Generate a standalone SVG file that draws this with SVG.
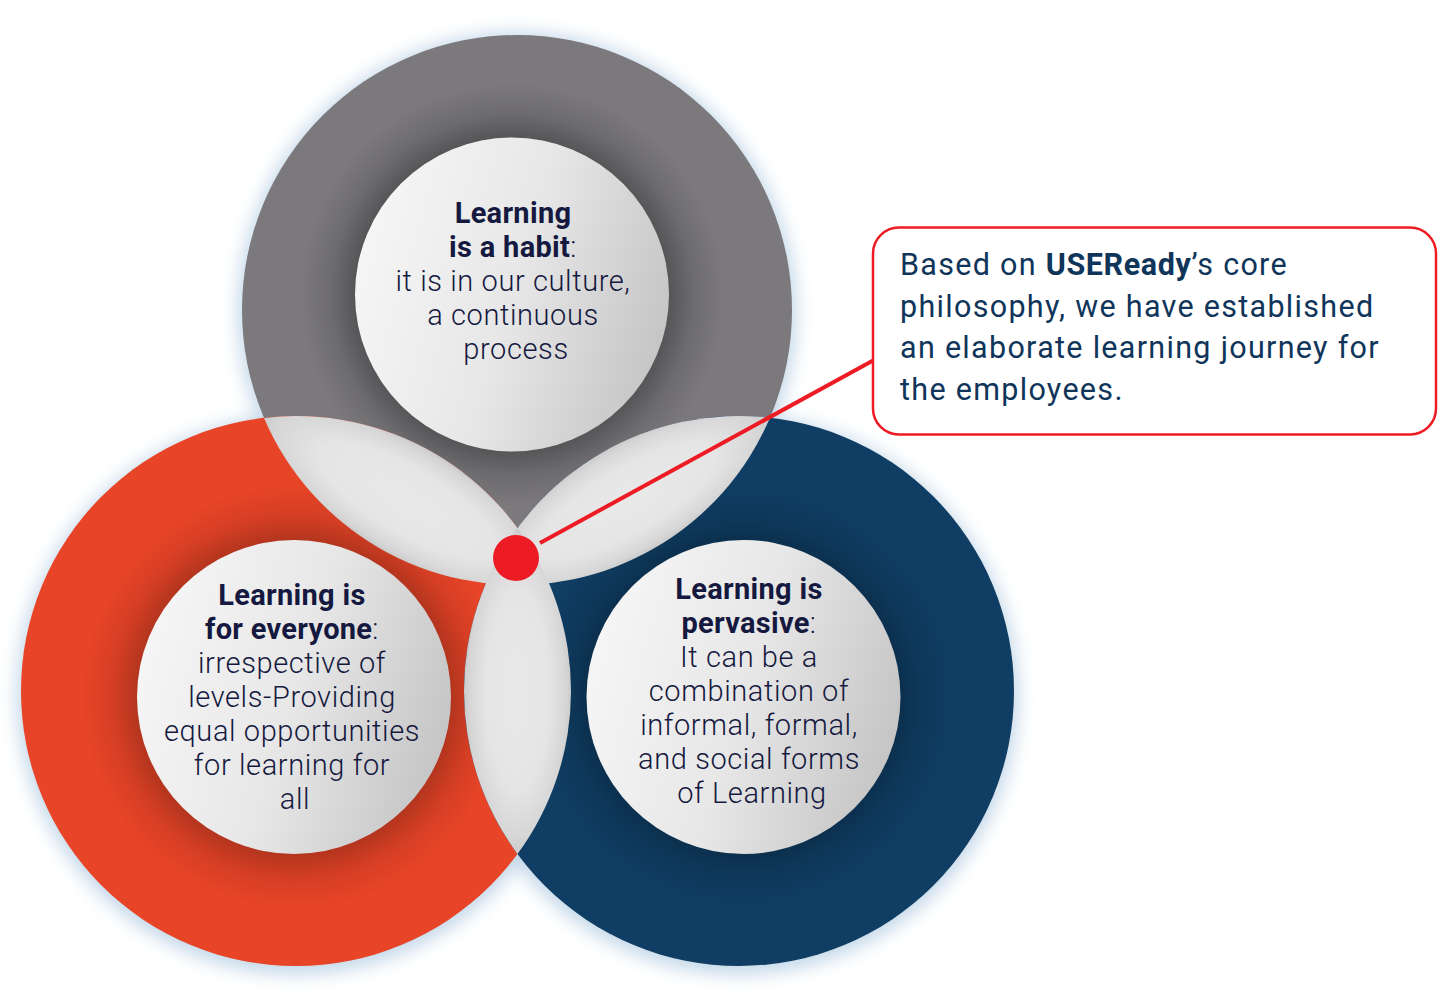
<svg xmlns="http://www.w3.org/2000/svg" width="1453" height="1007" viewBox="0 0 1453 1007">
<defs>
<style>
.t{font-family:Roboto,"Liberation Sans",sans-serif;font-size:29px;fill:#15193f;text-anchor:middle;font-weight:300;letter-spacing:0.6px}
.b{font-weight:700;letter-spacing:0.3px}
.c{font-family:Roboto,"Liberation Sans",sans-serif;font-size:30.5px;fill:#10355a;font-weight:400;letter-spacing:1.3px}
.cb{font-weight:700;letter-spacing:0.6px}
.lens{stroke:none}
</style>
<filter id="blur" x="-20%" y="-20%" width="140%" height="140%"><feGaussianBlur stdDeviation="9"/></filter>
<linearGradient id="ball" x1="0" y1="0.35" x2="1" y2="0.65">
<stop offset="0" stop-color="#f6f6f6"/>
<stop offset="0.5" stop-color="#e7e7e7"/>
<stop offset="1" stop-color="#c4c4c4"/>
</linearGradient>
<radialGradient id="shade" cx="0.5" cy="0.5" r="0.5">
<stop offset="0.74" stop-color="#000" stop-opacity="0.3"/>
<stop offset="0.86" stop-color="#000" stop-opacity="0.11"/>
<stop offset="1" stop-color="#000" stop-opacity="0"/>
</radialGradient>
<radialGradient id="lensGO" gradientUnits="userSpaceOnUse" cx="0" cy="0" r="1" gradientTransform="translate(406.5,500.5) rotate(30.1) scale(164.7,54.8)">
<stop offset="0" stop-color="#e9e9e9"/>
<stop offset="0.6" stop-color="#e5e5e5"/>
<stop offset="0.9" stop-color="#d6d6d6"/>
<stop offset="1" stop-color="#cbcbcb"/>
</radialGradient>
<radialGradient id="lensGN" gradientUnits="userSpaceOnUse" cx="0" cy="0" r="1" gradientTransform="translate(628,500.5) rotate(-30.2) scale(164.4,54.5)">
<stop offset="0" stop-color="#e9e9e9"/>
<stop offset="0.6" stop-color="#e5e5e5"/>
<stop offset="0.9" stop-color="#d6d6d6"/>
<stop offset="1" stop-color="#cbcbcb"/>
</radialGradient>
<radialGradient id="lensON" gradientUnits="userSpaceOnUse" cx="0" cy="0" r="1" gradientTransform="translate(517.5,691) rotate(90) scale(163,53.5)">
<stop offset="0" stop-color="#e9e9e9"/>
<stop offset="0.6" stop-color="#e5e5e5"/>
<stop offset="0.9" stop-color="#d6d6d6"/>
<stop offset="1" stop-color="#cbcbcb"/>
</radialGradient>
</defs>
<rect width="1453" height="1007" fill="#ffffff"/>

<g id="glow" filter="url(#blur)" fill="#c3d7e8">
<circle cx="517" cy="312" r="279"/>
<circle cx="296" cy="695" r="279"/>
<circle cx="739" cy="695" r="279"/>
</g>

<g id="rings">
<circle cx="517" cy="310" r="275" fill="#7b797c"/>
<circle cx="512" cy="294.5" r="212" fill="url(#shade)"/>
<circle cx="296" cy="691" r="275" fill="#e84427"/>
<circle cx="294" cy="697" r="212" fill="url(#shade)" opacity="0.75"/>
<circle cx="739" cy="691" r="275" fill="#0f3d63"/>
<circle cx="743.5" cy="697" r="212" fill="url(#shade)" opacity="0.7"/>
</g>

<g id="overlaps">
<path class="lens" fill="url(#lensGO)" d="M264,417.9 A275,275 0 0 1 549,583.1 A275,275 0 0 1 264,417.9 Z"/>
<path class="lens" fill="url(#lensGN)" d="M486,583.3 A275,275 0 0 1 770,417.7 A275,275 0 0 1 486,583.3 Z"/>
<path class="lens" fill="url(#lensON)" d="M517.5,528 A275,275 0 0 0 517.5,854 A275,275 0 0 0 517.5,528 Z"/>
</g>

<g id="node-habit">
<circle cx="512" cy="294.5" r="157" fill="url(#ball)"/>
<text class="t"><tspan class="b" x="513" y="223">Learning</tspan><tspan x="513" y="257"><tspan class="b">is a habit</tspan>:</tspan><tspan x="513" y="291">it is in our culture,</tspan><tspan x="513" y="325">a continuous</tspan><tspan x="516" y="359">process</tspan></text>
</g>

<g id="node-everyone">
<circle cx="294" cy="697" r="157" fill="url(#ball)"/>
<text class="t"><tspan class="b" x="292" y="605">Learning is</tspan><tspan x="292" y="639"><tspan class="b">for everyone</tspan>:</tspan><tspan x="292" y="673">irrespective of</tspan><tspan x="292" y="707">levels-Providing</tspan><tspan x="292" y="741">equal opportunities</tspan><tspan x="292" y="775">for learning for</tspan><tspan x="295" y="809">all</tspan></text>
</g>

<g id="node-pervasive">
<circle cx="743.5" cy="697" r="157" fill="url(#ball)"/>
<text class="t"><tspan class="b" x="749" y="599">Learning is</tspan><tspan x="749" y="633"><tspan class="b">pervasive</tspan>:</tspan><tspan x="749" y="667">It can be a</tspan><tspan x="749" y="701">combination of</tspan><tspan x="749" y="735">informal, formal,</tspan><tspan x="749" y="769">and social forms</tspan><tspan x="752" y="803">of Learning</tspan></text>
</g>

<g id="connectors">
<line x1="540" y1="543" x2="874" y2="360" stroke="#ed1c24" stroke-width="4"/>
</g>

<g id="center-dot">
<circle cx="516" cy="558" r="23" fill="#ed1c24"/>
</g>

<g id="callout">
<rect x="873" y="227.5" width="563" height="207" rx="26" fill="#ffffff" stroke="#ed1c24" stroke-width="2.5"/>
<text class="c"><tspan x="900" y="275">Based on <tspan class="cb">USEReady</tspan>’s core</tspan><tspan x="900" y="316.5">philosophy, we have established</tspan><tspan x="900" y="358">an elaborate learning journey for</tspan><tspan x="900" y="399.5">the employees.</tspan></text>
</g>
</svg>
